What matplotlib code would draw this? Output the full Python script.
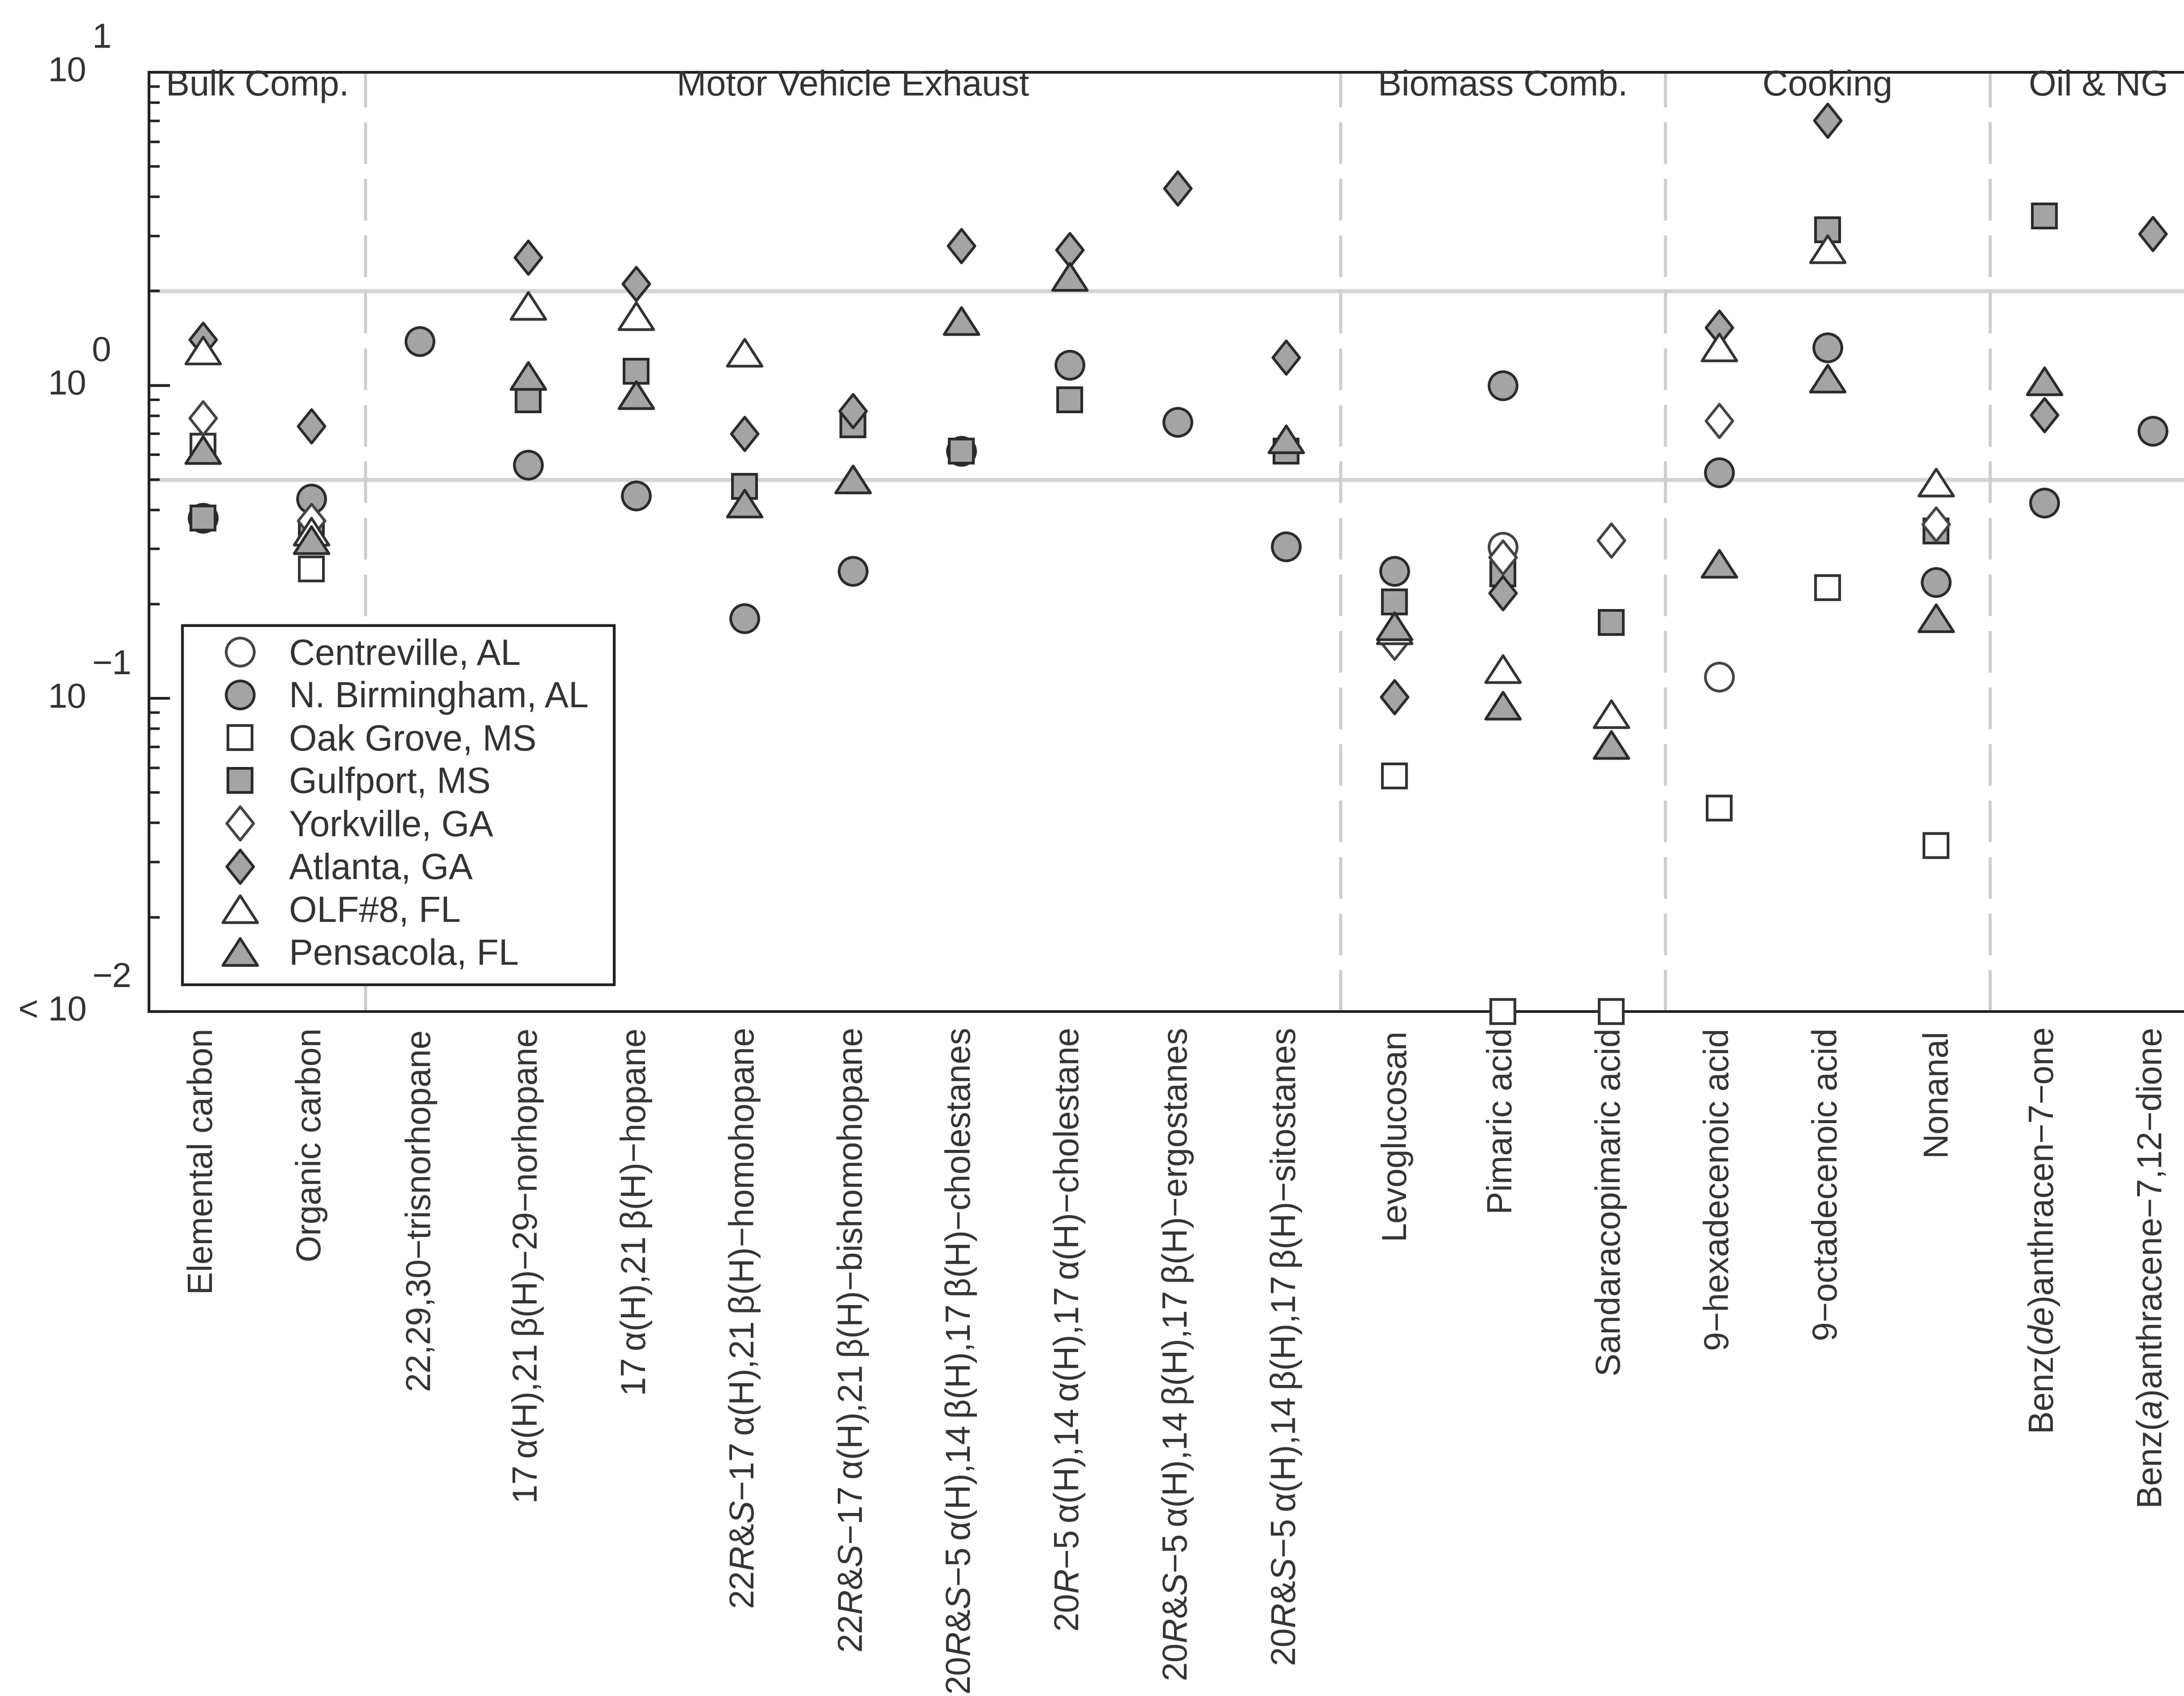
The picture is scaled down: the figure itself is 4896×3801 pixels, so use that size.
import numpy as np
import matplotlib.pyplot as plt
from matplotlib.path import Path
from matplotlib.ticker import LogLocator, NullFormatter
from matplotlib.transforms import offset_copy

plt.rcParams['font.family'] = ['Liberation Sans', 'DejaVu Sans']
plt.rcParams['mathtext.fontset'] = 'custom'
plt.rcParams['mathtext.rm'] = 'Liberation Sans'
plt.rcParams['mathtext.it'] = 'Liberation Sans:italic'

nan = np.nan
A = "\u2009\u03b1"   # thin space + alpha
B = "\u2009\u03b2"   # thin space + beta
M = "\u2212"         # minus sign used as hyphen

# Compounds along the x axis
compounds = [
    "Elemental carbon",
    "Organic carbon",
    f"22,29,30{M}trisnorhopane",
    f"17{A}(H),21{B}(H){M}29{M}norhopane",
    f"17{A}(H),21{B}(H){M}hopane",
    r"22$\it{R}$&$\it{S}$" + f"{M}17{A}(H),21{B}(H){M}homohopane",
    r"22$\it{R}$&$\it{S}$" + f"{M}17{A}(H),21{B}(H){M}bishomohopane",
    r"20$\it{R}$&$\it{S}$" + f"{M}5{A}(H),14{B}(H),17{B}(H){M}cholestanes",
    r"20$\it{R}$" + f"{M}5{A}(H),14{A}(H),17{A}(H){M}cholestane",
    r"20$\it{R}$&$\it{S}$" + f"{M}5{A}(H),14{B}(H),17{B}(H){M}ergostanes",
    r"20$\it{R}$&$\it{S}$" + f"{M}5{A}(H),14{B}(H),17{B}(H){M}sitostanes",
    "Levoglucosan",
    "Pimaric acid",
    "Sandaracopimaric acid",
    f"9{M}hexadecenoic acid",
    f"9{M}octadecenoic acid",
    "Nonanal",
    r"Benz($\it{de}$)anthracen" + f"{M}7{M}one",
    r"Benz($\it{a}$)anthracene" + f"{M}7,12{M}dione",
]

groups = ["Bulk Comp.", "Motor Vehicle Exhaust", "Biomass Comb.", "Cooking", "Oil & NG"]
group_sizes = [2, 9, 3, 3, 2]

sites = ["Centreville, AL", "N. Birmingham, AL", "Oak Grove, MS", "Gulfport, MS",
         "Yorkville, GA", "Atlanta, GA", "OLF#8, FL", "Pensacola, FL"]

# ratios per site (values at 0.01 are below detection)
centreville = [nan, nan, nan, nan, nan, nan, nan, nan, nan, nan,
               nan, nan, 0.304, nan, 0.117, nan, nan, nan, nan]
n_birmingham = [0.377, 0.434, 1.38, 0.556, 0.444, 0.180, 0.255, 0.616, 1.16, 0.764,
                0.305, 0.255, 1.00, nan, 0.526, 1.32, 0.235, 0.421, 0.715]
oak_grove = [0.64, 0.259, nan, nan, nan, nan, nan, nan, nan, nan,
             nan, 0.0566, 0.01, 0.01, 0.0447, 0.226, 0.0339, nan, nan]
gulfport = [0.377, 0.335, nan, 0.90, 1.11, 0.476, 0.748, 0.616, 0.90, nan,
            0.616, 0.203, 0.250, 0.175, nan, 3.14, 0.343, 3.48, nan]
yorkville = [0.787, 0.369, nan, nan, nan, nan, nan, nan, nan, nan,
             nan, 0.151, 0.282, 0.320, 0.771, nan, 0.36, nan, nan]
atlanta = [1.40, 0.741, nan, 2.56, 2.11, 0.70, 0.829, 2.79, 2.71, 4.26,
           1.23, 0.101, 0.217, nan, 1.53, 7.02, nan, 0.804, 3.05]
olf8 = [1.29, 0.34, nan, 1.79, 1.66, 1.27, nan, nan, nan, nan,
        nan, 0.165, 0.124, 0.0888, 1.32, 2.72, 0.489, nan, nan]
pensacola = [0.62, 0.32, nan, 1.07, 0.93, 0.418, 0.50, 1.60, 2.22, nan,
             0.672, 0.170, 0.0947, 0.0709, 0.269, 1.05, 0.180, 1.03, nan]

site_values = [centreville, n_birmingham, oak_grove, gulfport,
               yorkville, atlanta, olf8, pensacola]

ref_levels = [0.5, 2.0]
decades = [10, 1, 0.1, 0.01]
decade_bases = ["10", "10", "10", "< 10"]
decade_exps = ["1", "0", "\u22121", "\u22122"]

# marker shapes (closed paths so the open ones get a full outline)
circle = 'o'
square = 's'
diamond = Path([(0, 1), (0.8, 0), (0, -1), (-0.8, 0), (0, 1)], closed=True)
triangle = Path([(-1, -0.75), (1, -0.75), (0, 0.8), (-1, -0.75)], closed=True)

gray = '#a4a4a4'
edge = '#2b2b2b'
text_color = '#333333'

styles = [
    dict(marker=circle, ms=11.3, mfc='white', mec='#444444'),
    dict(marker=circle, ms=11.3, mfc=gray, mec=edge),
    dict(marker=square, ms=9.6, mfc='white', mec='#333333'),
    dict(marker=square, ms=9.6, mfc=gray, mec=edge),
    dict(marker=diamond, ms=13.5, mfc='white', mec='#444444'),
    dict(marker=diamond, ms=13.5, mfc=gray, mec=edge),
    dict(marker=triangle, ms=14, mfc='white', mec='#333333'),
    dict(marker=triangle, ms=14, mfc=gray, mec=edge),
]

fig = plt.figure(figsize=(12.24, 9.5025), dpi=400)
ax = fig.add_axes([0.0682, 0.4036, 0.9422, 0.5538])

x = np.arange(len(compounds))

ax.set_yscale('log')
ax.set_ylim(0.01, 10)
ax.set_xlim(-0.5, len(compounds) - 0.5)

# reference lines and group separators
for level in ref_levels:
    ax.axhline(level, color='#d4d4d4', lw=1.6, zorder=1)

edges = np.cumsum(group_sizes)[:-1] - 0.5
for e in edges:
    ax.axvline(e, color='#cdcdcd', lw=1.2, dashes=(14, 5), zorder=1)

starts = np.concatenate([[0], np.cumsum(group_sizes)]) - 0.5
for name, a, b in zip(groups, starts[:-1], starts[1:]):
    ax.text((a + b) / 2, 0.985, name, transform=ax.get_xaxis_transform(),
            ha='center', va='center', fontsize=14.3, color=text_color)

for site, vals, st in zip(sites, site_values, styles):
    ax.plot(x, vals, linestyle='none', mew=1.1, clip_on=False, zorder=3,
            label=site, **st)

# axes styling
for s in ax.spines.values():
    s.set_color('#222222')
    s.set_linewidth(1.1)

ax.yaxis.set_major_locator(LogLocator(base=10))
ax.yaxis.set_minor_locator(LogLocator(base=10, subs=np.arange(2, 10)))
ax.yaxis.set_minor_formatter(NullFormatter())
ax.tick_params(axis='y', which='major', direction='in', length=8.4, width=1.1,
               color='#222222', labelleft=False, right=False)
ax.tick_params(axis='y', which='minor', direction='in', length=4.3, width=1.0,
               color='#222222', right=False)

ax.set_xticks(x)
ax.set_xticklabels(compounds, rotation=90, fontsize=13.8, color=text_color)
ax.tick_params(axis='x', length=0, pad=6.7)

# decade labels: base number plus raised exponent
ytrans = ax.get_yaxis_transform()
base_trans = offset_copy(ytrans, fig=fig, x=-140, y=0, units='dots')
exp_trans = offset_copy(ytrans, fig=fig, x=-128, y=75, units='dots')
for v, b, e in zip(decades, decade_bases, decade_exps):
    ax.text(0, v, b, transform=base_trans, ha='right', va='center',
            fontsize=14, color=text_color, clip_on=False)
    ax.text(0, v, e, transform=exp_trans, ha='left', va='center',
            fontsize=14, color=text_color, clip_on=False)

leg = ax.legend(loc='upper left', bbox_to_anchor=(0.0835, 0.4, 0.1977, 0.2312),
                bbox_transform=fig.transFigure, mode='expand', fontsize=14.5,
                frameon=True, fancybox=False, framealpha=1, edgecolor='#222222',
                borderpad=0.35, handlelength=2.5, handletextpad=0.12,
                labelspacing=0.25, borderaxespad=0)
leg.get_frame().set_linewidth(1.1)
for t in leg.get_texts():
    t.set_color(text_color)

fig.savefig('out.png', dpi=400, facecolor='white')
